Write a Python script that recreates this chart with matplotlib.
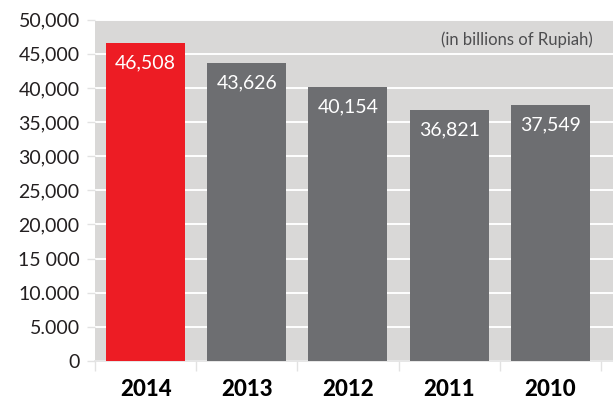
import matplotlib
matplotlib.use("Agg")
import matplotlib.pyplot as plt
import numpy as np

# revenue per year, billions of Rupiah
years = ["2014", "2013", "2012", "2011", "2010"]
values = [46508, 43626, 40154, 36821, 37549]
value_labels = ["46,508", "43,626", "40,154", "36,821", "37,549"]
bar_colors = ["#ED1C24", "#6D6E71", "#6D6E71", "#6D6E71", "#6D6E71"]

y_ticks = [0, 5000, 10000, 15000, 20000, 25000, 30000, 35000, 40000, 45000, 50000]
y_tick_labels = ["0", "5.000", "10.000", "15 000", "20,000", "25,000",
                 "30,000", "35,000", "40,000", "45,000", "50,000"]

plt.rcParams['font.family'] = ['Lato', 'DejaVu Sans']
text_color = "#231F20"
line_color = "#E2E2E2"

fig = plt.figure(figsize=(6.13, 4.01), dpi=100)
ax = fig.add_axes([0.155, 0.1, 0.845, 0.851])
ax.set_facecolor("#D9D8D7")

x = np.arange(len(years))
ax.bar(x, values, width=0.78, color=bar_colors, zorder=3)

for xi, v, lab in zip(x, values, value_labels):
    ax.text(xi, v - 2900, lab, ha="center", va="center", color="white",
            fontsize=14, zorder=4)

ax.text(0.961, 0.94, "(in billions of Rupiah)", transform=ax.transAxes,
        ha="right", va="center", fontsize=12, color="#4D4D4F")

ax.set_xlim(-0.5, 4.62)
ax.set_ylim(0, 50000)

ax.set_yticks(y_ticks)
ax.set_yticklabels(y_tick_labels)
ax.yaxis.grid(True, color="white", linewidth=1.4, zorder=1)
ax.tick_params(axis="y", length=6, width=1, color=line_color, pad=5,
               labelsize=14, labelcolor=text_color)

ax.set_xticks(x)
ax.set_xticklabels(years, fontweight="black")
ax.set_xticks(np.arange(-0.5, 4.6, 1.0), minor=True)
ax.tick_params(axis="x", which="major", length=0, pad=13,
               labelsize=16, labelcolor="black")
ax.tick_params(axis="x", which="minor", length=7, width=1, color=line_color)

for s in ["top", "right", "left"]:
    ax.spines[s].set_visible(False)
ax.spines["bottom"].set_color(line_color)
ax.spines["bottom"].set_linewidth(1.2)

fig.savefig("out.png", dpi=100)
